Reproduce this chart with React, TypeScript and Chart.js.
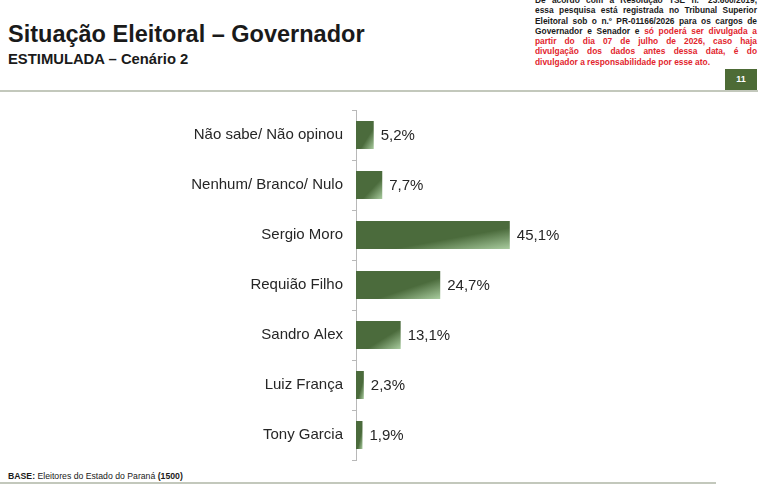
import React, { useEffect, useRef } from "react";
import { Chart, registerables } from "chart.js";

Chart.register(...registerables);

const categories = [
  "Não sabe/ Não opinou",
  "Nenhum/ Branco/ Nulo",
  "Sergio Moro",
  "Requião Filho",
  "Sandro Alex",
  "Luiz França",
  "Tony Garcia",
];
const values = [5.2, 7.7, 45.1, 24.7, 13.1, 2.3, 1.9];

const title = "Situação Eleitoral – Governador";
const subtitle = "ESTIMULADA – Cenário 2";
const pageNumber = "11";
const disclaimerBlack = [
  "De acordo com a Resolução TSE n.º 23.600/2019,",
  "essa pesquisa está registrada no Tribunal Superior",
  "Eleitoral sob o n.º PR-01166/2026 para os cargos de",
];
const disclaimerMixedBlack = "Governador e Senador e ";
const disclaimerMixedRed = "só poderá ser divulgada a";
const disclaimerRed = [
  "partir do dia 07 de julho de 2026, caso haja",
  "divulgação dos dados antes dessa data, é do",
  "divulgador a responsabilidade por esse ato.",
];

const FONT = '"Liberation Sans", Arial, Helvetica, sans-serif';
const DARK = "#4b6b3c";
const LIGHT = "#a9cc9f";
const RED = "#e2252d";

const fmt = (v: number) => v.toFixed(1).replace(".", ",") + "%";

export default function App() {
  const ref = useRef<HTMLCanvasElement>(null);

  useEffect(() => {
    if (!ref.current) return;
    const valueLabels = {
      id: "valueLabels",
      afterDatasetsDraw(chart: any) {
        const ctx = chart.ctx;
        const meta = chart.getDatasetMeta(0);
        ctx.save();
        ctx.font = `15px ${FONT}`;
        ctx.fillStyle = "#262626";
        ctx.textAlign = "left";
        ctx.textBaseline = "middle";
        meta.data.forEach((el: any, i: number) => {
          ctx.fillText(fmt(values[i]), el.x + 7, el.y + 1);
        });
        ctx.restore();
      },
    };

    const chart = new Chart(ref.current, {
      type: "bar",
      data: {
        labels: categories,
        datasets: [
          {
            data: values,
            barPercentage: 0.56,
            categoryPercentage: 1,
            borderWidth: 0,
            backgroundColor: (c: any) => {
              const ch = c.chart;
              const xs = ch.scales?.x;
              const ys = ch.scales?.y;
              if (!ch.chartArea || !xs || !ys || c.dataIndex === undefined) return DARK;
              const v = values[c.dataIndex];
              const x0 = xs.getPixelForValue(0);
              const x1 = xs.getPixelForValue(v);
              const yc = ys.getPixelForValue(c.dataIndex);
              const h = 28;
              const w = Math.max(1, x1 - x0);
              const yt = yc - h / 2;
              const k = (2 * w * h) / (h * h + w * w);
              const g = ch.ctx.createLinearGradient(x0, yt, x0 + h * k, yt + w * k);
              g.addColorStop(0, DARK);
              g.addColorStop(0.62, DARK);
              g.addColorStop(1, LIGHT);
              return g;
            },
          },
        ],
      },
      options: {
        indexAxis: "y",
        responsive: false,
        maintainAspectRatio: false,
        animation: false,
        devicePixelRatio: 1,
        layout: { padding: { top: 10, bottom: 10, left: 0, right: 65 } },
        plugins: { legend: { display: false }, tooltip: { enabled: false } },
        scales: {
          x: { display: false, min: 0, max: 100 },
          y: {
            grid: {
              drawOnChartArea: false,
              drawTicks: true,
              tickLength: 4,
              color: "#b8b8b8",
              offset: true,
            },
            border: { display: true, color: "#b8b8b8", width: 1 },
            ticks: {
              color: "#262626",
              font: { size: 15, family: FONT },
              padding: 9,
            },
            afterFit: (s: any) => {
              s.width = 356;
              s.paddingTop = 0;
              s.paddingBottom = 0;
            },
          },
        },
      },
      plugins: [valueLabels],
    } as any);
    return () => chart.destroy();
  }, []);

  const lineStyle = (last = false): React.CSSProperties => ({
    whiteSpace: "nowrap",
    textAlign: last ? "left" : "justify",
    textAlignLast: last ? "left" : "justify",
    height: 10.3,
    lineHeight: "10.3px",
  } as any);

  return (
    <div
      style={{
        position: "fixed",
        left: 0,
        top: 0,
        width: 762,
        height: 484,
        background: "#fff",
        overflow: "hidden",
        fontFamily: FONT,
      }}
    >
      <div
        style={{
          position: "absolute",
          left: 8,
          top: 23,
          fontSize: 23.5,
          lineHeight: 1,
          fontWeight: "bold",
          color: "#1a1a1a",
          whiteSpace: "nowrap",
        }}
      >
        {title}
      </div>
      <div
        style={{
          position: "absolute",
          left: 8,
          top: 51.5,
          fontSize: 14.8,
          lineHeight: 1,
          fontWeight: "bold",
          color: "#1a1a1a",
          whiteSpace: "nowrap",
        }}
      >
        {subtitle}
      </div>

      <div
        style={{
          position: "absolute",
          left: 535,
          top: -5,
          width: 222,
          fontSize: 8.4,
          fontWeight: "bold",
          color: "#1a1a1a",
        }}
      >
        {disclaimerBlack.map((t, i) => (
          <div key={i} style={lineStyle()}>
            {t}
          </div>
        ))}
        <div style={lineStyle()}>
          {disclaimerMixedBlack}
          <span style={{ color: RED }}>{disclaimerMixedRed}</span>
        </div>
        {disclaimerRed.map((t, i) => (
          <div key={i} style={{ ...lineStyle(i === disclaimerRed.length - 1), color: RED }}>
            {t}
          </div>
        ))}
      </div>

      <div
        style={{
          position: "absolute",
          left: 0,
          top: 90,
          width: 758,
          height: 2,
          background: "#c3c8bc",
        }}
      />
      <div
        style={{
          position: "absolute",
          left: 725,
          top: 69,
          width: 32,
          height: 21,
          background: "#4d6b36",
          color: "#fff",
          fontSize: 9,
          fontWeight: "bold",
          lineHeight: "21px",
          textAlign: "center",
        }}
      >
        {pageNumber}
      </div>

      <canvas
        ref={ref}
        width={762}
        height={370}
        style={{ position: "absolute", left: 0, top: 100, width: 762, height: 370 }}
      />

      <div
        style={{
          position: "absolute",
          left: 8,
          top: 471,
          fontSize: 8.7,
          lineHeight: "10px",
          color: "#1a1a1a",
          whiteSpace: "nowrap",
        }}
      >
        <b>BASE:</b> Eleitores do Estado do Paraná <b>(1500)</b>
      </div>
      <div
        style={{
          position: "absolute",
          left: 0,
          top: 482,
          width: 716,
          height: 2,
          background: "#c3c8bc",
        }}
      />
    </div>
  );
}
